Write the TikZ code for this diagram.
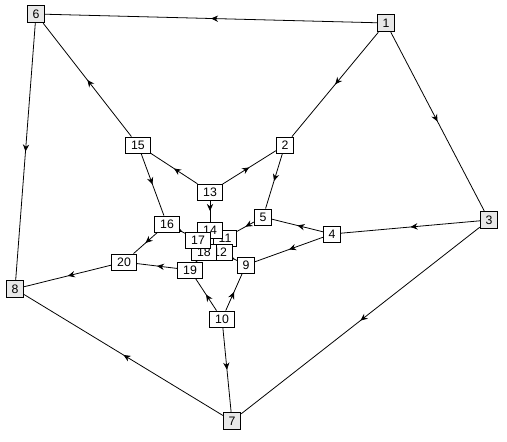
\documentclass[tikz,border=0pt]{standalone}
\usepackage{fontspec}
\setmainfont{Liberation Sans}
\usetikzlibrary{arrows.meta, decorations.markings, backgrounds}
\definecolor{outergrey}{RGB}{232,232,232}
\tikzset{
    vertex style/.style={draw, rectangle, fill=white, minimum width=0.33cm, minimum height=0.32cm, inner xsep=3pt, inner ysep=0pt, font=\fontsize{7}{8}\selectfont, line width=0.5pt},
    outer style/.style={vertex style, fill=outergrey, minimum width=0.35cm, minimum height=0.35cm},
    arrow style/.style={line width=0.45pt, decoration={markings, mark=at position 0.5 with {\arrow{Stealth[length=4pt, width=3.6pt]}}}, postaction={decorate}},
}

\begin{document}
\begin{tikzpicture}[x=0.02cm, y=-0.02cm]
        \useasboundingbox (0,0) rectangle (507,442);
        % outer ring
        \node (v1) [outer style] at (386,23) {1};
        \node (v3) [outer style] at (489,220) {3};
        \node (v6) [outer style] at (36,14) {6};
        \node (v7) [outer style] at (232,421) {7};
        \node (v8) [outer style] at (15,289) {8};
        % middle ring
        \node (v2) [vertex style] at (285,145) {2};
        \node (v4) [vertex style] at (332,234) {4};
        \node (v5) [vertex style] at (263,217) {5};
        \node (v9) [vertex style] at (246,265) {9};
        \node (v10) [vertex style] at (222,319) {10};
        \node (v13) [vertex style] at (210,192) {13};
        \node (v15) [vertex style] at (138,145) {15};
        \node (v16) [vertex style] at (167,224) {16};
        \node (v19) [vertex style] at (190,270) {19};
        \node (v20) [vertex style] at (124,262) {20};
        % inner cluster
        \node (v11) [vertex style] at (225,238) {11};
        \node (v14) [vertex style] at (210,230) {14};
        \node (v12) [vertex style] at (220,252) {12};
        \node (v18) [vertex style] at (204,252) {18};
        \node (v17) [vertex style] at (198,240) {17};

        \begin{scope}[on background layer]
        \draw [arrow style] (v1) -- (v6);
        \draw [arrow style] (v1) -- (v2);
        \draw [arrow style] (v1) -- (v3);
        \draw [arrow style] (v6) -- (v8);
        \draw [arrow style] (v15) -- (v6);
        \draw [arrow style] (v3) -- (v4);
        \draw [arrow style] (v3) -- (v7);
        \draw [arrow style] (v7) -- (v8);
        \draw [arrow style] (v10) -- (v7);
        \draw [arrow style] (v20) -- (v8);
        \draw [arrow style] (v2) -- (v5);
        \draw [arrow style] (v13) -- (v2);
        \draw [arrow style] (v13) -- (v15);
        \draw [arrow style] (v15) -- (v16);
        \draw [arrow style] (v16) -- (v20);
        \draw [arrow style] (v16) -- (v17);
        \draw [arrow style] (v19) -- (v20);
        \draw [arrow style] (v10) -- (v19);
        \draw [arrow style] (v10) -- (v9);
        \draw [arrow style] (v4) -- (v5);
        \draw [arrow style] (v4) -- (v9);
        \draw [arrow style] (v13) -- (v14);
        \draw [arrow style] (v5) -- (v11);
        \draw [arrow style] (v12) -- (v9);
        \draw [arrow style] (v19) -- (v18);
        \draw [arrow style] (v14) -- (v11);
        \draw [arrow style] (v11) -- (v12);
        \draw [arrow style] (v18) -- (v12);
        \draw [arrow style] (v17) -- (v18);
        \draw [arrow style] (v14) -- (v17);
        \end{scope}
    \end{tikzpicture}
\end{document}
